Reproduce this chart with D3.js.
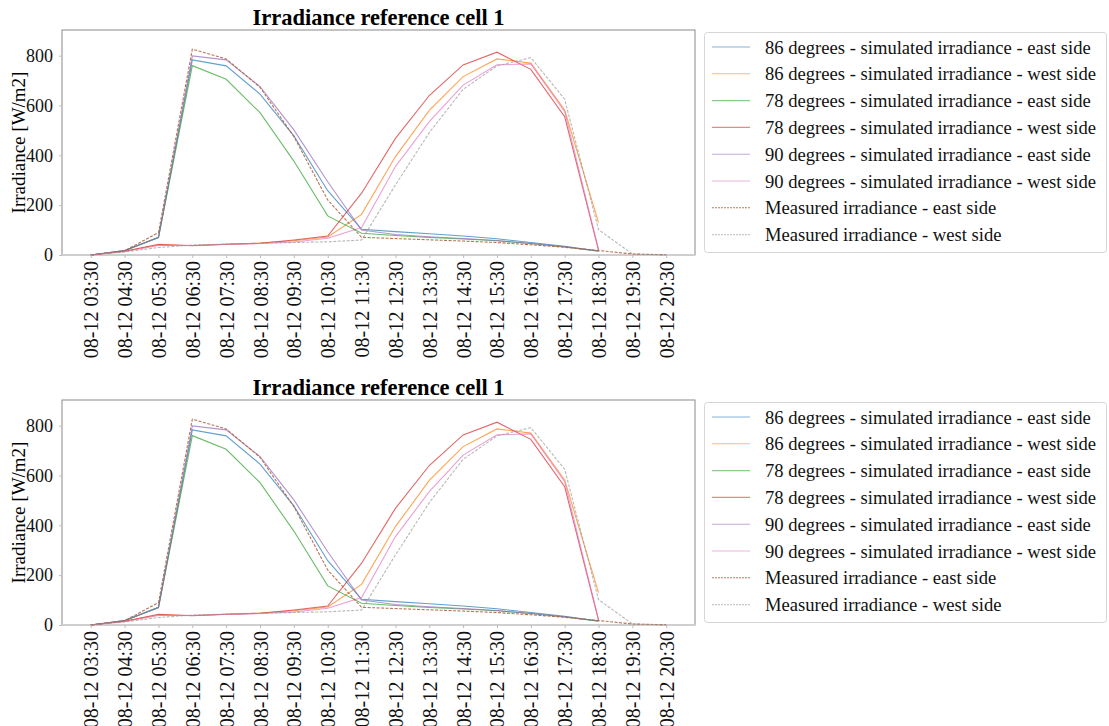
<!DOCTYPE html>
<html>
<head>
<meta charset="utf-8">
<script src="https://cdn.jsdelivr.net/npm/d3@7"></script>
<style>
  body { margin: 0; background: #fff; }
  text { font-family: "Liberation Serif", "Times New Roman", serif; }
</style>
</head>
<body>
<script>
// time labels on the x axis
const times = ["03:30", "04:30", "05:30", "06:30", "07:30", "08:30", "09:30", "10:30", "11:30",
    "12:30", "13:30", "14:30", "15:30", "16:30", "17:30", "18:30", "19:30", "20:30"];
const tickLabels = times.map(t => "08-12 " + t);

// simulated series stop at 18:30, measured run to 20:30
const sim86East = [0, 18, 71, 783, 759, 646, 478, 258, 103, 94, 85, 76, 65, 50, 35, 16];
const sim86West = [0, 15, 40, 38, 43, 48, 57, 72, 163, 395, 580, 716, 787, 770, 582, 130];
const sim78East = [0, 17, 70, 760, 705, 571, 377, 157, 87, 78, 70, 64, 57, 46, 32, 15];
const sim78West = [0, 15, 43, 37, 43, 47, 60, 76, 248, 468, 640, 763, 814, 745, 555, 20];
const sim90East = [0, 18, 70, 799, 783, 676, 502, 294, 100, 82, 73, 66, 58, 46, 33, 16];
const sim90West = [0, 14, 38, 38, 42, 46, 52, 67, 110, 355, 535, 682, 763, 767, 575, 22];
const measEast = [0, 17, 90, 826, 787, 673, 475, 221, 71, 66, 61, 56, 50, 41, 31, 18, 4, 1];
const measWest = [0, 12, 30, 40, 44, 47, 50, 53, 60, 281, 491, 665, 759, 792, 625, 102, 4, 0];

const seriesNames = [
    "86 degrees - simulated irradiance - east side",
    "86 degrees - simulated irradiance - west side",
    "78 degrees - simulated irradiance - east side",
    "78 degrees - simulated irradiance - west side",
    "90 degrees - simulated irradiance - east side",
    "90 degrees - simulated irradiance - west side",
    "Measured irradiance - east side",
    "Measured irradiance - west side"
];
const seriesValues = [sim86East, sim86West, sim78East, sim78West, sim90East, sim90West, measEast, measWest];
const colors = ["#1f77b4", "#ff7f0e", "#2ca02c", "#d62728", "#9467bd", "#e377c2", "#b0653f", "#9a9a9a"];
const yTicks = [0, 200, 400, 600, 800];

const width = 1109;
const height = 726;

const svg = d3.select("body")
    .append("svg")
    .attr("width", width)
    .attr("height", height);

const x = d3.scaleLinear()
    .domain([-0.85, times.length - 1 + 0.85])
    .range([62, 695]);

function drawPanel(top) {
    const g = svg.append("g").attr("transform", "translate(0," + top + ")");

    const y = d3.scaleLinear()
        .domain([0, 903])
        .range([255, 30]);

    // frame
    g.append("rect")
        .attr("x", 62).attr("y", 30)
        .attr("width", 633).attr("height", 225)
        .attr("fill", "none")
        .attr("stroke", "#8a8a8a")
        .attr("stroke-width", 1);
    g.append("line")
        .attr("x1", 62).attr("x2", 695)
        .attr("y1", 255).attr("y2", 255)
        .attr("stroke", "#cfcfcf")
        .attr("stroke-width", 2);

    // lines
    const line = d3.line()
        .x((d, i) => x(i))
        .y(d => y(d));

    seriesValues.forEach((vals, k) => {
        g.append("path")
            .datum(vals)
            .attr("d", line)
            .attr("fill", "none")
            .attr("stroke", colors[k])
            .attr("stroke-width", 1.1)
            .attr("stroke-opacity", k == 6 ? 0.9 : 0.7)
            .attr("stroke-dasharray", k >= 6 ? "3,1.5" : null);
    });

    // y axis
    const yAxis = g.append("g")
        .attr("transform", "translate(62,0)")
        .call(d3.axisLeft(y).tickValues(yTicks).tickSize(3).tickPadding(6));
    yAxis.select(".domain").remove();
    yAxis.selectAll("line").attr("stroke", "#bbb");
    yAxis.selectAll("text")
        .style("font-family", "'Liberation Serif', serif")
        .style("font-size", "18px")
        .attr("fill", "#111");

    // x axis
    const xAxis = g.append("g")
        .attr("transform", "translate(0,255)")
        .call(d3.axisBottom(x).tickValues(d3.range(times.length))
            .tickFormat(i => tickLabels[i]).tickSize(3));
    xAxis.select(".domain").remove();
    xAxis.selectAll("line").attr("stroke", "#bbb");
    xAxis.selectAll("text")
        .style("font-family", "'Liberation Serif', serif")
        .style("font-size", "20px")
        .attr("fill", "#111")
        .attr("transform", "rotate(-90)")
        .attr("text-anchor", "end")
        .attr("x", -6)
        .attr("y", 0)
        .attr("dy", "0.35em");

    // title
    g.append("text")
        .attr("x", 378.5)
        .attr("y", 25)
        .attr("text-anchor", "middle")
        .style("font-size", "22.5px")
        .style("font-weight", "bold")
        .text("Irradiance reference cell 1");

    // y label
    g.append("text")
        .attr("transform", "translate(25,142.5) rotate(-90)")
        .attr("text-anchor", "middle")
        .style("font-size", "19px")
        .text("Irradiance [W/m2]");

    // legend
    const leg = g.append("g");
    leg.append("rect")
        .attr("x", 704.5).attr("y", 32.5)
        .attr("width", 402).attr("height", 220)
        .attr("rx", 3)
        .attr("fill", "#fff")
        .attr("stroke", "#d6d6d6");
    seriesNames.forEach((name, k) => {
        const cy = 47 + k * 26.8;
        leg.append("line")
            .attr("x1", 712).attr("x2", 750)
            .attr("y1", cy).attr("y2", cy)
            .attr("stroke", colors[k])
            .attr("stroke-opacity", k == 6 ? 0.85 : 0.55)
            .attr("stroke-width", 1.1)
            .attr("stroke-dasharray", k >= 6 ? "2,1" : null);
        leg.append("text")
            .attr("x", 765)
            .attr("y", cy)
            .attr("dy", "0.35em")
            .style("font-size", "18.6px")
            .attr("fill", "#111")
            .text(name);
    });
}

drawPanel(0);
drawPanel(370);
</script>
</body>
</html>
